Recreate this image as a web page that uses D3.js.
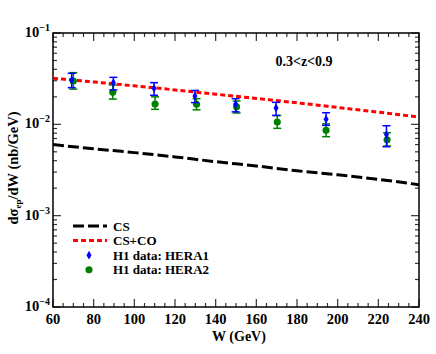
<!DOCTYPE html>
<html>
<head>
<meta charset="utf-8">
<script src="https://cdn.jsdelivr.net/npm/d3@7"></script>
<style>
  body { margin: 0; background: #fff; }
  text { font-family: "Liberation Serif", serif; font-weight: bold; fill: #000; }
</style>
</head>
<body>
<div id="chart"></div>
<script>
// theory curves
const curveW = [60, 80, 100, 120, 140, 160, 180, 200, 220, 240];
const cs     = [0.0060, 0.0054, 0.0049, 0.0044, 0.0039, 0.0035, 0.0031, 0.0028, 0.0025, 0.00218];
const csco   = [0.0320, 0.0291, 0.0264, 0.0238, 0.0214, 0.0192, 0.0172, 0.0153, 0.0136, 0.0120];

// H1 data
const hera1W   = [69.2, 89.7, 109.7, 129.8, 149.8, 169.7, 194.3, 224.0];
const hera1    = [0.0305, 0.0286, 0.0248, 0.0204, 0.0166, 0.0151, 0.0114, 0.00776];
const hera1Hi  = [0.0362, 0.0327, 0.0286, 0.0235, 0.0191, 0.0174, 0.0134, 0.00965];
const hera1Lo  = [0.0252, 0.0238, 0.0208, 0.0173, 0.0137, 0.0125, 0.00975, 0.00569];

const hera2W   = [70.0, 89.4, 110.2, 130.6, 150.3, 170.3, 194.3, 224.3];
const hera2    = [0.0298, 0.0224, 0.0167, 0.0166, 0.0156, 0.0106, 0.00859, 0.00678];
const hera2Hi  = [0.0368, 0.0270, 0.0200, 0.0191, 0.0180, 0.0125, 0.0101, 0.00808];
const hera2Lo  = [0.0243, 0.0189, 0.0146, 0.0144, 0.0133, 0.00904, 0.00732, 0.00578];

const xTicks = [60, 80, 100, 120, 140, 160, 180, 200, 220, 240];
const yTicks = [1e-4, 1e-3, 1e-2, 1e-1];
const legendLabels = ["CS", "CS+CO", "H1 data: HERA1", "H1 data: HERA2"];

const W = 436, H = 354;
const margin = { top: 33, right: 17, bottom: 47, left: 53 };
const width = W - margin.left - margin.right;
const height = H - margin.top - margin.bottom;

const svg = d3.select("#chart").append("svg")
  .attr("width", W).attr("height", H);
const g = svg.append("g")
  .attr("transform", `translate(${margin.left},${margin.top})`);

const x = d3.scaleLinear().domain([60, 240]).range([0, width]);
const y = d3.scaleLog().domain([1e-4, 1e-1]).range([height, 0]);

// ticks (inward on all sides)
const minorX = d3.range(60, 241, 5).filter(v => v % 20 !== 0);
const minorY = [];
[1e-4, 1e-3, 1e-2].forEach(d => { for (let k = 2; k <= 9; k++) minorY.push(d * k); });

function tickLines(sel, vals, len, horiz) {
  vals.forEach(v => {
    if (horiz) {
      sel.append("line").attr("x1", x(v)).attr("x2", x(v)).attr("y1", height).attr("y2", height - len);
      sel.append("line").attr("x1", x(v)).attr("x2", x(v)).attr("y1", 0).attr("y2", len);
    } else {
      sel.append("line").attr("y1", y(v)).attr("y2", y(v)).attr("x1", 0).attr("x2", len);
      sel.append("line").attr("y1", y(v)).attr("y2", y(v)).attr("x1", width).attr("x2", width - len);
    }
  });
}
const ticks = g.append("g").attr("stroke", "#333").attr("stroke-width", 1.2);
tickLines(ticks, xTicks, 8, true);
tickLines(ticks, minorX, 4, true);
tickLines(ticks, yTicks, 8, false);
tickLines(ticks, minorY, 4, false);

g.append("rect").attr("width", width).attr("height", height)
  .attr("fill", "none").attr("stroke", "#000").attr("stroke-width", 1.5);

// tick labels
g.selectAll(".xl").data(xTicks).enter().append("text")
  .attr("x", d => x(d)).attr("y", height + 17)
  .attr("text-anchor", "middle").style("font-size", "14.5px")
  .text(d => d);

const yl = g.selectAll(".yl").data(yTicks).enter().append("text")
  .attr("x", -3).attr("y", d => y(d) + 4)
  .attr("text-anchor", "end").style("font-size", "14.5px");
yl.append("tspan").text("10");
yl.append("tspan").attr("dy", -6).style("font-size", "10px")
  .text(d => "\u2212" + Math.round(-Math.log10(d)));

// axis titles
g.append("text").attr("x", x(150) + 3).attr("y", height + 34)
  .attr("text-anchor", "middle").style("font-size", "14px").text("W (GeV)");

const yt = svg.append("text")
  .attr("transform", `translate(18,${margin.top + height / 2 - 2}) rotate(-90)`)
  .attr("text-anchor", "middle").style("font-size", "14.5px");
yt.append("tspan").text("d\u03c3");
yt.append("tspan").attr("dy", 3).style("font-size", "9px").text("ep");
yt.append("tspan").attr("dy", -3).text("/dW (nb/GeV)");

// curves
const line = d3.line().x(d => x(d[0])).y(d => y(d[1])).curve(d3.curveMonotoneX);
g.append("path").datum(curveW.map((w, i) => [w, cs[i]]))
  .attr("d", line).attr("fill", "none").attr("stroke", "#000")
  .attr("stroke-width", 3).attr("stroke-dasharray", "11,4");
g.append("path").datum(curveW.map((w, i) => [w, csco[i]]))
  .attr("d", line).attr("fill", "none").attr("stroke", "#ff0000")
  .attr("stroke-width", 3).attr("stroke-dasharray", "5,3");

// data with error bars
function drawData(ws, vals, hi, lo, color, shape) {
  const grp = g.append("g");
  const pts = ws.map((w, i) => ({ w, v: vals[i], hi: hi[i], lo: lo[i] }));
  const e = grp.selectAll(".e").data(pts).enter().append("g")
    .attr("stroke", color).attr("stroke-width", 1.5);
  e.append("line").attr("x1", d => x(d.w)).attr("x2", d => x(d.w))
    .attr("y1", d => y(d.hi)).attr("y2", d => y(d.lo));
  e.append("line").attr("x1", d => x(d.w) - 4).attr("x2", d => x(d.w) + 4)
    .attr("y1", d => y(d.hi)).attr("y2", d => y(d.hi));
  e.append("line").attr("x1", d => x(d.w) - 4).attr("x2", d => x(d.w) + 4)
    .attr("y1", d => y(d.lo)).attr("y2", d => y(d.lo));
  grp.selectAll(".m").data(pts).enter().append("path")
    .attr("transform", d => `translate(${x(d.w)},${y(d.v)})`)
    .attr("d", d3.symbol().type(shape).size(shape === d3.symbolCircle ? 40 : 22))
    .attr("fill", color);
}
drawData(hera2W, hera2, hera2Hi, hera2Lo, "#008000", d3.symbolCircle);
drawData(hera1W, hera1, hera1Hi, hera1Lo, "#0000ff", d3.symbolDiamond);

// annotation
g.append("text").attr("x", 251).attr("y", 33)
  .attr("text-anchor", "middle").style("font-size", "14px").text("0.3<z<0.9");

// legend
const lg = svg.append("g").attr("transform", "translate(73,226)");
const rows = lg.selectAll("g").data(legendLabels).enter().append("g")
  .attr("transform", (d, i) => `translate(0,${i * 14.6})`);
rows.append("text").attr("x", 40).attr("y", 4.5).style("font-size", "13px").text(d => d);
rows.filter((d, i) => i === 0).append("line")
  .attr("x1", 0).attr("x2", 34).attr("stroke", "#000").attr("stroke-width", 3)
  .attr("stroke-dasharray", "11,4");
rows.filter((d, i) => i === 1).append("line")
  .attr("x1", 0).attr("x2", 34).attr("stroke", "#ff0000").attr("stroke-width", 3)
  .attr("stroke-dasharray", "5,3");
rows.filter((d, i) => i === 2).append("path")
  .attr("transform", "translate(16,0)")
  .attr("d", d3.symbol().type(d3.symbolDiamond).size(22)).attr("fill", "#0000ff");
rows.filter((d, i) => i === 3).append("path")
  .attr("transform", "translate(16,0)")
  .attr("d", d3.symbol().type(d3.symbolCircle).size(40)).attr("fill", "#008000");
</script>
</body>
</html>
